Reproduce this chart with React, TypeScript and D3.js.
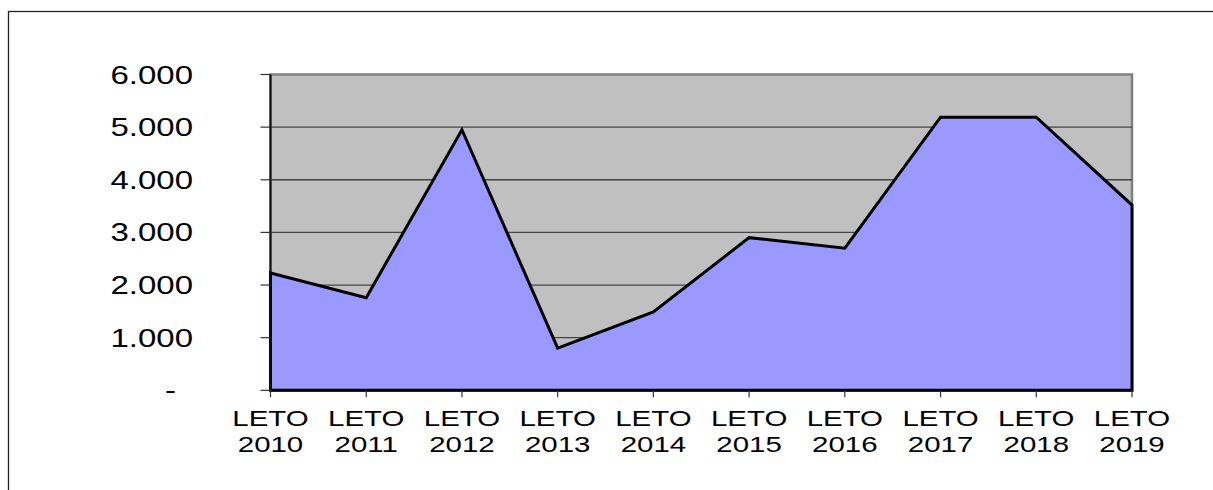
import React from "react";
import * as d3 from "d3";

const seasons = ["LETO 2010", "LETO 2011", "LETO 2012", "LETO 2013", "LETO 2014", "LETO 2015", "LETO 2016", "LETO 2017", "LETO 2018", "LETO 2019"];
const values = [2230, 1760, 4950, 800, 1490, 2900, 2700, 5190, 5190, 3520];
const yTicks = [0, 1000, 2000, 3000, 4000, 5000, 6000];

const width = 1213;
const height = 490;
const plot = { left: 270.5, right: 1132, top: 74.5, bottom: 390.3 };
const stretch = 1.32;

const fmt = (v: number) => (v === 0 ? "-" : d3.format(",")(v).replace(/,/g, "."));

const App = () => {
  const x = d3
    .scalePoint<string>()
    .domain(seasons)
    .range([plot.left, plot.right]);

  const y = d3
    .scaleLinear()
    .domain([0, 6000])
    .range([plot.bottom, plot.top]);

  const area = d3
    .area<number>()
    .x((d, i) => x(seasons[i]) as number)
    .y0(y(0))
    .y1((d) => y(d));

  return (
    <svg
      width={width}
      height={height}
      style={{ position: "absolute", left: 0, top: 0 }}
      fontFamily="'Liberation Sans', Arial, sans-serif"
    >
      <rect x={8.5} y={11.5} width={1400} height={700} fill="#fff" stroke="#222" strokeWidth={1.3} />

      {/* plot area */}
      <rect
        x={plot.left}
        y={plot.top}
        width={plot.right - plot.left}
        height={plot.bottom - plot.top}
        fill="#c0c0c0"
        stroke="#808080"
        strokeWidth={2.5}
      />

      {yTicks.slice(1, -1).map((t) => (
        <line key={t} x1={plot.left} x2={plot.right} y1={y(t)} y2={y(t)} stroke="#444" strokeWidth={1.3} />
      ))}

      <path d={area(values) || ""} fill="#9999ff" stroke="#000" strokeWidth={3} strokeLinejoin="miter" />

      {/* axes */}
      <line x1={plot.left} x2={plot.left} y1={plot.top} y2={plot.bottom} stroke="#111" strokeWidth={2} />
      <line x1={plot.left} x2={plot.right} y1={plot.bottom} y2={plot.bottom} stroke="#000" strokeWidth={2} />

      {yTicks.map((t) => (
        <g key={t}>
          <line x1={plot.left - 10} x2={plot.left} y1={y(t)} y2={y(t)} stroke="#333" strokeWidth={1.2} />
          <text
            transform={`translate(${t === 0 ? 176 : 193},${y(t) + 9}) scale(${stretch},1)`}
            textAnchor="end"
            fontSize={25}
            fill="#000"
          >
            {fmt(t)}
          </text>
        </g>
      ))}

      {seasons.map((s) => {
        const cx = x(s) as number;
        const [word, year] = s.split(" ");
        return (
          <g key={s}>
            <line x1={cx} x2={cx} y1={plot.bottom} y2={plot.bottom + 7} stroke="#333" strokeWidth={1.2} />
            <text transform={`translate(${cx},426) scale(${stretch},1)`} textAnchor="middle" fontSize={22.3} fill="#000">
              {word}
            </text>
            <text transform={`translate(${cx},452) scale(${stretch},1)`} textAnchor="middle" fontSize={22.3} fill="#000">
              {year}
            </text>
          </g>
        );
      })}
    </svg>
  );
};

export default App;
